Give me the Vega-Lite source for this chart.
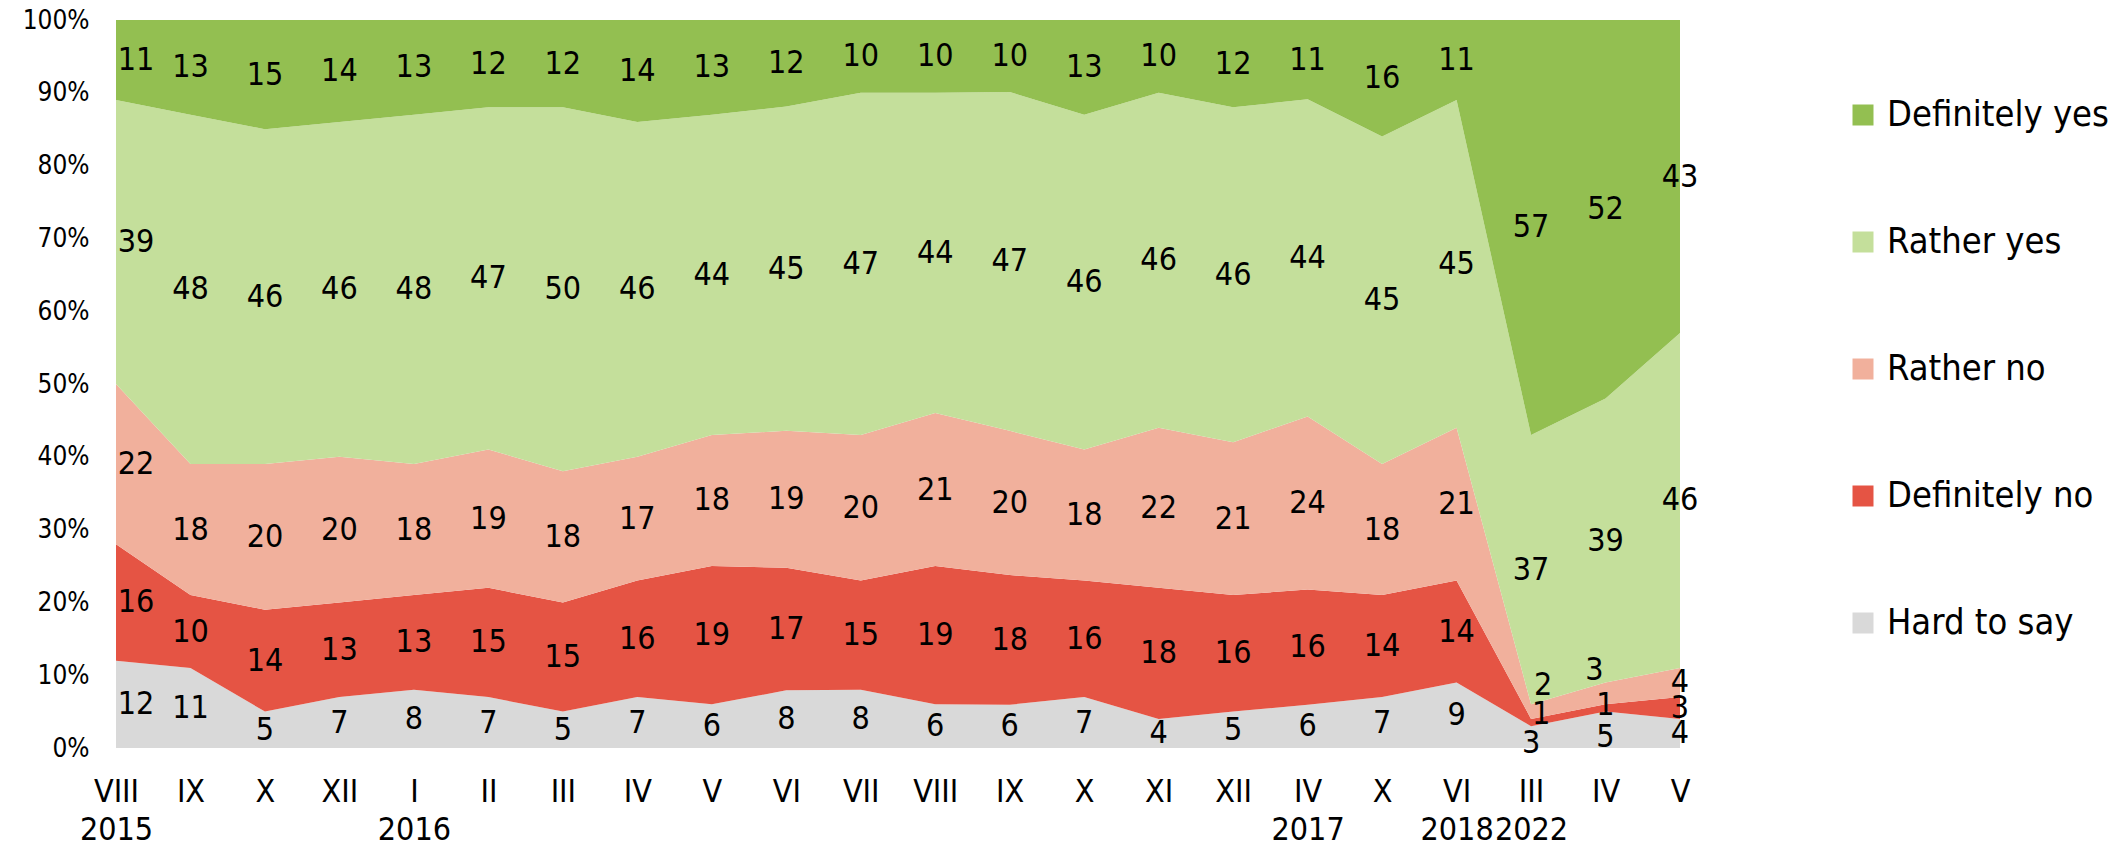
{
  "$schema": "https://vega.github.io/schema/vega-lite/v6.json",
  "width": 1564,
  "height": 728,
  "autosize": {"type": "none"},
  "padding": {"left": 116, "top": 20, "right": 443, "bottom": 97},
  "background": "white",
  "config": {
    "view": {"stroke": null},
    "font": "DejaVu Sans Condensed, DejaVu Sans"
  },
  "data": {"values": [
    {"d":"2015-08","c":"Hard to say","v":12},{"d":"2015-08","c":"Definitely no","v":16},{"d":"2015-08","c":"Rather no","v":22},{"d":"2015-08","c":"Rather yes","v":39},{"d":"2015-08","c":"Definitely yes","v":11},
    {"d":"2015-09","c":"Hard to say","v":11},{"d":"2015-09","c":"Definitely no","v":10},{"d":"2015-09","c":"Rather no","v":18},{"d":"2015-09","c":"Rather yes","v":48},{"d":"2015-09","c":"Definitely yes","v":13},
    {"d":"2015-10","c":"Hard to say","v":5},{"d":"2015-10","c":"Definitely no","v":14},{"d":"2015-10","c":"Rather no","v":20},{"d":"2015-10","c":"Rather yes","v":46},{"d":"2015-10","c":"Definitely yes","v":15},
    {"d":"2015-12","c":"Hard to say","v":7},{"d":"2015-12","c":"Definitely no","v":13},{"d":"2015-12","c":"Rather no","v":20},{"d":"2015-12","c":"Rather yes","v":46},{"d":"2015-12","c":"Definitely yes","v":14},
    {"d":"2016-01","c":"Hard to say","v":8},{"d":"2016-01","c":"Definitely no","v":13},{"d":"2016-01","c":"Rather no","v":18},{"d":"2016-01","c":"Rather yes","v":48},{"d":"2016-01","c":"Definitely yes","v":13},
    {"d":"2016-02","c":"Hard to say","v":7},{"d":"2016-02","c":"Definitely no","v":15},{"d":"2016-02","c":"Rather no","v":19},{"d":"2016-02","c":"Rather yes","v":47},{"d":"2016-02","c":"Definitely yes","v":12},
    {"d":"2016-03","c":"Hard to say","v":5},{"d":"2016-03","c":"Definitely no","v":15},{"d":"2016-03","c":"Rather no","v":18},{"d":"2016-03","c":"Rather yes","v":50},{"d":"2016-03","c":"Definitely yes","v":12},
    {"d":"2016-04","c":"Hard to say","v":7},{"d":"2016-04","c":"Definitely no","v":16},{"d":"2016-04","c":"Rather no","v":17},{"d":"2016-04","c":"Rather yes","v":46},{"d":"2016-04","c":"Definitely yes","v":14},
    {"d":"2016-05","c":"Hard to say","v":6},{"d":"2016-05","c":"Definitely no","v":19},{"d":"2016-05","c":"Rather no","v":18},{"d":"2016-05","c":"Rather yes","v":44},{"d":"2016-05","c":"Definitely yes","v":13},
    {"d":"2016-06","c":"Hard to say","v":8},{"d":"2016-06","c":"Definitely no","v":17},{"d":"2016-06","c":"Rather no","v":19},{"d":"2016-06","c":"Rather yes","v":45},{"d":"2016-06","c":"Definitely yes","v":12},
    {"d":"2016-07","c":"Hard to say","v":8},{"d":"2016-07","c":"Definitely no","v":15},{"d":"2016-07","c":"Rather no","v":20},{"d":"2016-07","c":"Rather yes","v":47},{"d":"2016-07","c":"Definitely yes","v":10},
    {"d":"2016-08","c":"Hard to say","v":6},{"d":"2016-08","c":"Definitely no","v":19},{"d":"2016-08","c":"Rather no","v":21},{"d":"2016-08","c":"Rather yes","v":44},{"d":"2016-08","c":"Definitely yes","v":10},
    {"d":"2016-09","c":"Hard to say","v":6},{"d":"2016-09","c":"Definitely no","v":18},{"d":"2016-09","c":"Rather no","v":20},{"d":"2016-09","c":"Rather yes","v":47},{"d":"2016-09","c":"Definitely yes","v":10},
    {"d":"2016-10","c":"Hard to say","v":7},{"d":"2016-10","c":"Definitely no","v":16},{"d":"2016-10","c":"Rather no","v":18},{"d":"2016-10","c":"Rather yes","v":46},{"d":"2016-10","c":"Definitely yes","v":13},
    {"d":"2016-11","c":"Hard to say","v":4},{"d":"2016-11","c":"Definitely no","v":18},{"d":"2016-11","c":"Rather no","v":22},{"d":"2016-11","c":"Rather yes","v":46},{"d":"2016-11","c":"Definitely yes","v":10},
    {"d":"2016-12","c":"Hard to say","v":5},{"d":"2016-12","c":"Definitely no","v":16},{"d":"2016-12","c":"Rather no","v":21},{"d":"2016-12","c":"Rather yes","v":46},{"d":"2016-12","c":"Definitely yes","v":12},
    {"d":"2017-04","c":"Hard to say","v":6},{"d":"2017-04","c":"Definitely no","v":16},{"d":"2017-04","c":"Rather no","v":24},{"d":"2017-04","c":"Rather yes","v":44},{"d":"2017-04","c":"Definitely yes","v":11},
    {"d":"2017-10","c":"Hard to say","v":7},{"d":"2017-10","c":"Definitely no","v":14},{"d":"2017-10","c":"Rather no","v":18},{"d":"2017-10","c":"Rather yes","v":45},{"d":"2017-10","c":"Definitely yes","v":16},
    {"d":"2018-06","c":"Hard to say","v":9},{"d":"2018-06","c":"Definitely no","v":14},{"d":"2018-06","c":"Rather no","v":21},{"d":"2018-06","c":"Rather yes","v":45},{"d":"2018-06","c":"Definitely yes","v":11},
    {"d":"2022-03","c":"Hard to say","v":3},{"d":"2022-03","c":"Definitely no","v":1},{"d":"2022-03","c":"Rather no","v":2},{"d":"2022-03","c":"Rather yes","v":37},{"d":"2022-03","c":"Definitely yes","v":57},
    {"d":"2022-04","c":"Hard to say","v":5},{"d":"2022-04","c":"Definitely no","v":1},{"d":"2022-04","c":"Rather no","v":3},{"d":"2022-04","c":"Rather yes","v":39},{"d":"2022-04","c":"Definitely yes","v":52},
    {"d":"2022-05","c":"Hard to say","v":4},{"d":"2022-05","c":"Definitely no","v":3},{"d":"2022-05","c":"Rather no","v":4},{"d":"2022-05","c":"Rather yes","v":46},{"d":"2022-05","c":"Definitely yes","v":43}
  ]},
  "transform": [
    {"lookup": "c", "from": {"data": {"values": [
      {"name":"Hard to say","rank":1},{"name":"Definitely no","rank":2},{"name":"Rather no","rank":3},{"name":"Rather yes","rank":4},{"name":"Definitely yes","rank":5}
    ]}, "key": "name", "fields": ["rank"]}}
  ],
  "encoding": {
    "x": {
      "field": "d", "type": "ordinal",
      "scale": {"type": "point", "padding": 0},
      "axis": {
        "title": null, "domain": false, "ticks": false, "tickSize": 0,
        "labelAngle": 0, "labelFontSize": 32, "labelColor": "black",
        "labelPadding": 28, "labelLineHeight": 38, "labelBaseline": "top",
        "labelFont": "DejaVu Sans Condensed, DejaVu Sans", "labelOverlap": false,
        "labelExpr": "indexof(['2015-08','2016-01','2017-04','2018-06','2022-03'], datum.value) >= 0 ? [['I','II','III','IV','V','VI','VII','VIII','IX','X','XI','XII'][toNumber(substring(datum.value,5,7))-1], substring(datum.value,0,4)] : ['I','II','III','IV','V','VI','VII','VIII','IX','X','XI','XII'][toNumber(substring(datum.value,5,7))-1]"
      }
    },
    "order": {"field": "rank", "type": "quantitative"}
  },
  "layer": [
    {
      "mark": {"type": "area", "opacity": 1},
      "encoding": {
        "y": {
          "field": "v", "type": "quantitative", "stack": "normalize",
          "scale": {"domain": [0, 1], "nice": false},
          "axis": {
            "title": null, "domain": false, "ticks": false, "tickSize": 0, "grid": false,
            "values": [0,0.1,0.2,0.3,0.4,0.5,0.6,0.7,0.8,0.9,1],
            "format": ".0%", "labelFontSize": 26, "labelColor": "black", "labelPadding": 27,
            "labelFont": "DejaVu Sans Condensed, DejaVu Sans"
          }
        },
        "color": {
          "field": "c", "type": "nominal",
          "scale": {
            "domain": ["Definitely yes", "Rather yes", "Rather no", "Definitely no", "Hard to say"],
            "range": ["#93bf51", "#c4df9b", "#f1b09c", "#e55444", "#d9d9d9"]
          },
          "legend": {
            "title": null, "orient": "none", "legendX": 1729, "legendY": 77,
            "symbolType": "square", "symbolSize": 441, "symbolStrokeWidth": 0, "symbolOpacity": 1,
            "labelFontSize": 36, "labelColor": "black", "labelOffset": 6, "rowPadding": 91,
            "labelLimit": 0,
            "labelFont": "DejaVu Sans Condensed, DejaVu Sans", "padding": 0
          }
        }
      }
    },
    {
      "mark": {"type": "text", "fontSize": 32, "color": "black", "font": "DejaVu Sans Condensed, DejaVu Sans",
               "dx": {"expr": "datum.d == '2015-08' ? 20 : datum.d == '2022-03' && datum.c == 'Rather no' ? 12 : datum.d == '2022-03' && datum.c == 'Definitely no' ? 10 : datum.d == '2022-04' && datum.c == 'Rather no' ? -11 : 0"},
               "dy": {"expr": "datum.d == '2022-03' ? (datum.c == 'Rather no' ? -27 : datum.c == 'Definitely no' ? -9 : datum.c == 'Hard to say' ? 6 : 0) : datum.d == '2022-04' ? (datum.c == 'Rather no' ? -23 : datum.c == 'Definitely no' ? -3 : datum.c == 'Hard to say' ? 7 : 0) : 0"}},
      "encoding": {
        "y": {"field": "v", "type": "quantitative", "stack": "normalize", "bandPosition": 0.5},
        "text": {"field": "v", "type": "quantitative"}
      }
    }
  ]
}
